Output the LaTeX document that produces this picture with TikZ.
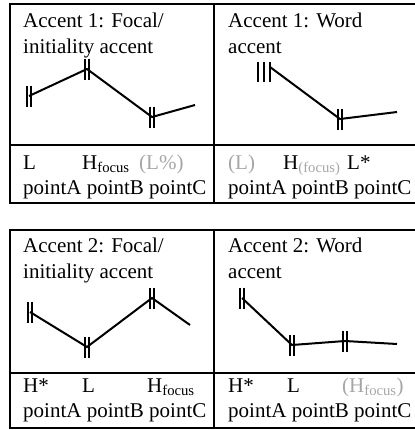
\documentclass[tikz,border=0pt]{standalone}
\usepackage{fontspec}
\setmainfont{Liberation Serif}
\colorlet{ghost}{black!35}

\tikzset{
    frame/.style={line width=2bp, line join=miter},
    contour/.style={line width=2bp, line join=miter},
    tickline/.style={line width=1.8bp},
    lbl/.style={anchor=base west, inner sep=0pt},
}
\newcommand{\dtick}[1]{\draw[tickline] (#1) ++(-2.2,-10.5) -- ++(0,21) (#1) ++(2.2,-10.5) -- ++(0,21);}

\begin{document}
\begin{tikzpicture}[x=1bp, y=-1bp, font=\fontsize{21bp}{26bp}\selectfont]
    \useasboundingbox (0,0) rectangle (415,430);

    % frames
    \draw[frame] (415,4) -- (10,4) -- (10,203) -- (415,203);
    \draw[frame] (10,145) -- (415,145);
    \draw[frame] (214,4) -- (214,203);
    \draw[frame] (415,230) -- (10,230) -- (10,428) -- (415,428);
    \draw[frame] (10,373) -- (415,373);
    \draw[frame] (214,230) -- (214,428);

    % titles
    \node[lbl] (titleA) at (23,27) {Accent 1: Focal/};
    \node[lbl] (titleAb) at (23,53) {initiality accent};
    \node[lbl] (titleB) at (228,27) {Accent 1: Word};
    \node[lbl] (titleBb) at (228,53) {accent};
    \node[lbl] (titleC) at (23,252) {Accent 2: Focal/};
    \node[lbl] (titleCb) at (23,278) {initiality accent};
    \node[lbl] (titleD) at (228,252) {Accent 2: Word};
    \node[lbl] (titleDb) at (228,278) {accent};

    % tone labels
    \node[lbl] (tA1) at (23,169) {L};
    \node[lbl] (tA2) at (82,169) {H\textsubscript{focus}};
    \node[lbl, text=ghost] (tA3) at (139,169) {(L\%)};
    \node[lbl] (pA) at (23,194) {pointA pointB pointC};

    \node[lbl, text=ghost] (tB1) at (228,169) {(L)};
    \node[lbl] (tB2) at (283,169) {H\textsubscript{\textcolor{ghost}{(focus)}}};
    \node[lbl] (tB3) at (347,169) {L*};
    \node[lbl] (pB) at (228,194) {pointA pointB pointC};

    \node[lbl] (tC1) at (23,392) {H*};
    \node[lbl] (tC2) at (82,392) {L};
    \node[lbl] (tC3) at (147,392) {H\textsubscript{focus}};
    \node[lbl] (pC) at (23,417) {pointA pointB pointC};

    \node[lbl] (tD1) at (228,392) {H*};
    \node[lbl] (tD2) at (287,392) {L};
    \node[lbl, text=ghost] (tD3) at (342,392) {(H\textsubscript{focus})};
    \node[lbl] (pD) at (228,417) {pointA pointB pointC};

    % contours
    \coordinate (a1) at (29,96);
    \coordinate (a2) at (87,69);
    \coordinate (a3) at (152,117);
    \coordinate (a4) at (195,105);
    \draw[contour] (a1) -- (a2) -- (a3) -- (a4);
    \dtick{a1} \dtick{a2} \dtick{a3}

    \coordinate (b1) at (270,67);
    \coordinate (b2) at (340,119);
    \coordinate (b3) at (397,112);
    \draw[contour] (b1) -- (b2) -- (b3);
    \draw[tickline] (258,62) -- (258,82) (264,62) -- (264,82) (270,62) -- (270,82);
    \dtick{b2}

    \coordinate (c1) at (30,312);
    \coordinate (c2) at (87,347);
    \coordinate (c3) at (152,298);
    \coordinate (c4) at (190,325);
    \draw[contour] (c1) -- (c2) -- (c3) -- (c4);
    \dtick{c1} \dtick{c2} \dtick{c3}

    \coordinate (d1) at (242,298);
    \coordinate (d2) at (292,345);
    \coordinate (d3) at (345,341);
    \coordinate (d4) at (397,344);
    \draw[contour] (d1) -- (d2) -- (d3) -- (d4);
    \dtick{d1} \dtick{d2} \dtick{d3}
\end{tikzpicture}
\end{document}
